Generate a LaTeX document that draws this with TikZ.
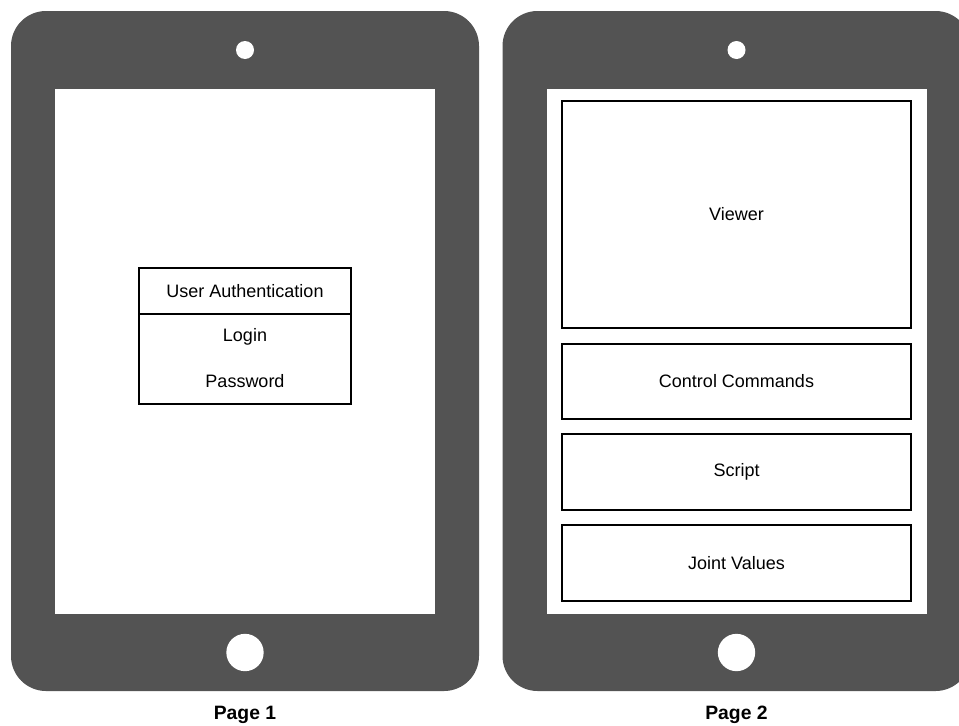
\documentclass[tikz,border=0pt]{standalone}
\usepackage{fontspec}
\setmainfont{Liberation Sans}
\definecolor{bezel}{RGB}{83,83,83}
\begin{document}
\begin{tikzpicture}[x=0.75pt,y=-0.75pt,
  body/.style={rectangle, fill=bezel, draw=none, rounded corners=26.25pt,
    minimum width=351pt, minimum height=510pt, inner sep=0pt},
  screen/.style={rectangle, fill=white, draw=none,
    minimum width=285pt, minimum height=393.75pt, inner sep=0pt},
  camera/.style={circle, fill=white, draw=none, minimum size=13.5pt, inner sep=0pt},
  homebtn/.style={circle, fill=white, draw=none, minimum size=28pt, inner sep=0pt},
  label/.style={font=\fontsize{13.5pt}{16pt}\selectfont},
  panel/.style={rectangle, draw=black, line width=1pt, fill=white, inner sep=0pt,
    minimum width=261.75pt, font=\fontsize{13.5pt}{16pt}\selectfont},
  authbox/.style={rectangle, draw=black, line width=1pt, fill=white, inner sep=0pt,
    minimum width=159pt},
  caption/.style={font=\bfseries\fontsize{14.5pt}{17pt}\selectfont}
]
\useasboundingbox (0,0) rectangle (959,725);
\begin{scope}
\clip (0,0) rectangle (959,725);

% ---- Page 1: login screen ----
\node[body]    (tab1)  at (245,351)   {};
\node[screen]  (scr1)  at (245,351.5) {};
\node[camera]  (cam1)  at (245,50)    {};
\node[homebtn] (home1) at (245,652.5) {};

\node[authbox, minimum height=34.5pt] (authhead) at (245,291) {};
\node[authbox, minimum height=67.5pt] (authbody) at (245,359) {};
\node[label] (authtitle) at (authhead.center) {User Authentication};
\node[label] (login)    at (245,337) {Login};
\node[label] (password) at (245,381) {Password};

% ---- Page 2: control screen ----
\node[body]    (tab2)  at (736.5,351)   {};
\node[screen]  (scr2)  at (736.5,351)   {};
\node[camera]  (cam2)  at (736.5,50)    {};
\node[homebtn] (home2) at (736.5,652.5) {};

\node[panel, minimum height=170.25pt] (viewer)  at (736.5,214.5) {Viewer};
\node[panel, minimum height=56.25pt]  (control) at (736.5,381.5) {Control Commands};
\node[panel, minimum height=57pt]     (script)  at (736.5,472)   {Script};
\node[panel, minimum height=57pt]     (joints)  at (736.5,563)   {Joint Values};
\end{scope}

% ---- captions ----
\node[caption] (cap1) at (245,715)   {Page 1};
\node[caption] (cap2) at (736.5,715) {Page 2};
\end{tikzpicture}
\end{document}
